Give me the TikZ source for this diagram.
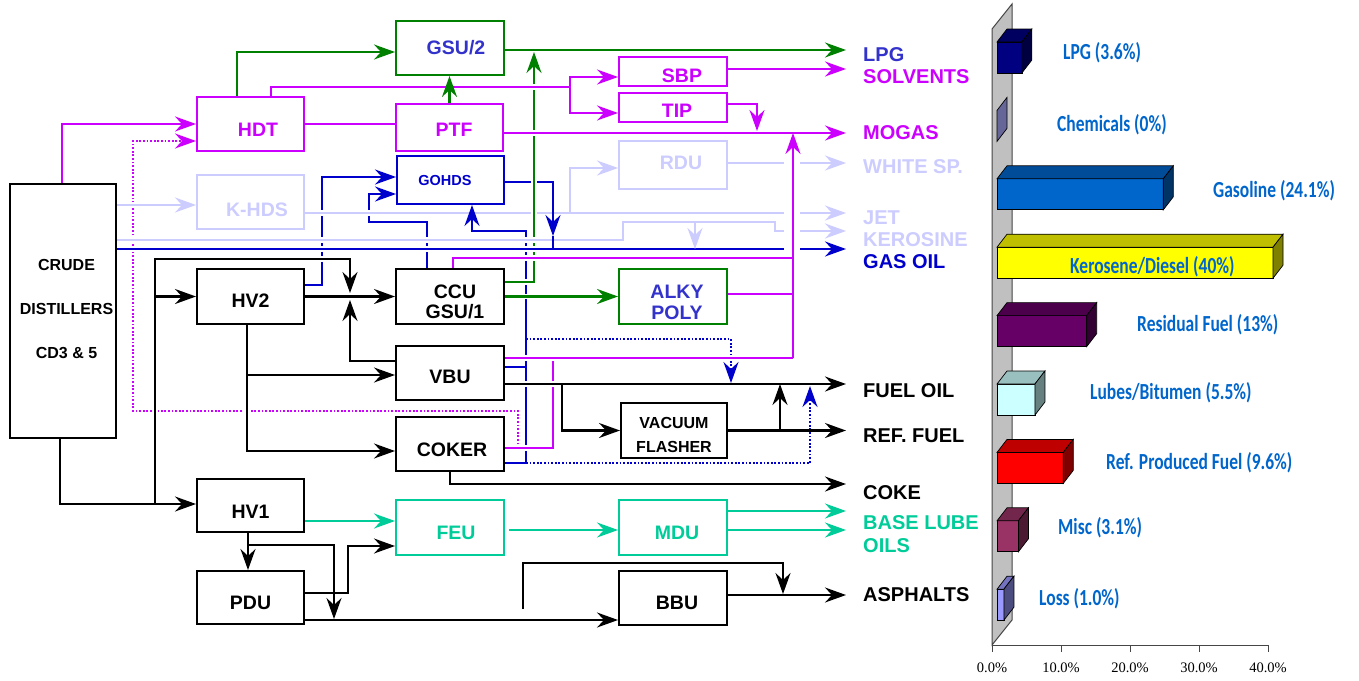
\documentclass[tikz,border=0pt]{standalone}
\usepackage{fontspec}
\setmainfont{Liberation Sans}
\newfontfamily\barfont{Carlito}[FakeStretch=0.76]
\newfontfamily\axisfont{Liberation Serif}
\usetikzlibrary{arrows.meta,backgrounds}
\definecolor{mg}{RGB}{204,0,255}
\definecolor{gr}{RGB}{0,128,0}
\definecolor{bl}{RGB}{0,0,204}
\definecolor{lv}{RGB}{204,204,255}
\definecolor{tl}{RGB}{0,204,153}
\definecolor{ind}{RGB}{51,51,204}
\definecolor{bartxt}{RGB}{0,102,204}
\definecolor{wallc}{RGB}{192,192,192}
\definecolor{wallb}{RGB}{70,70,70}
\definecolor{cLPG}{RGB}{0,0,128}
\definecolor{cGAS}{RGB}{0,102,204}
\definecolor{cKER}{RGB}{255,255,0}
\definecolor{cRES}{RGB}{102,0,102}
\definecolor{cLUB}{RGB}{204,255,255}
\definecolor{cREF}{RGB}{255,0,0}
\definecolor{cMSC}{RGB}{153,51,102}
\definecolor{cLOS}{RGB}{153,153,255}
\definecolor{cCHE}{RGB}{102,102,153}
\tikzset{
  box/.style={draw=#1, line width=2pt, minimum width=107pt, minimum height=54pt, inner sep=0pt},
  lbl/.style={font=\fontsize{19.5}{21}\selectfont\bfseries, align=center, inner sep=0pt},
  outl/.style={anchor=west, inner sep=0pt, font=\fontsize{20}{22}\selectfont\bfseries},
  wire/.style={line width=2.1pt},
  arr/.style={-{Stealth[length=21pt,width=15pt,inset=7pt]}},
  halo/.style={preaction={draw=white,line width=5.5pt,-}},
  dotln/.style={dash pattern=on 1.8pt off 1.8pt},
  barlbl/.style={anchor=west, inner sep=0pt, text=bartxt, font=\barfont\bfseries\fontsize{23}{25}\selectfont},
  barface/.style={draw=black, line width=0.7pt},
}
\begin{document}
\begin{tikzpicture}[x=1pt,y=-1pt]
\useasboundingbox (0,0) rectangle (1359,680);
% ---------------- process units ----------------
\node[box=black, minimum width=106pt, minimum height=254pt, label={[name=crude-l,lbl,font=\fontsize{16}{44}\selectfont\bfseries,xshift=3.5pt,yshift=2pt]center:CRUDE\\DISTILLERS\\CD3 \& 5}] (crude) at (63,311) {};
\node[box=mg, label={[name=hdt-l,lbl,text=mg,xshift=7.5pt,yshift=-5.5pt]center:HDT}] (hdt) at (250.5,124) {};
\node[box=lv, label={[name=khds-l,lbl,text=lv,xshift=6.5pt,yshift=-8pt]center:K-HDS}] (khds) at (250.5,202) {};
\node[box=gr, minimum width=108pt, label={[name=gsu2-l,lbl,text=ind,xshift=6pt]center:GSU/2}] (gsu2) at (450,48) {};
\node[box=mg, minimum height=47pt, label={[name=ptf-l,lbl,text=mg,xshift=4.5pt,yshift=-2pt]center:PTF}] (ptf) at (449.5,127.5) {};
\node[box=bl, minimum height=48pt, label={[name=gohds-l,lbl,font=\fontsize{14.5}{16}\selectfont\bfseries,text=bl,xshift=-5.5pt,yshift=-1pt]center:GOHDS}] (gohds) at (450.5,180) {};
\node[box=mg, minimum width=108pt, minimum height=29pt, label={[name=sbp-l,lbl,text=mg,xshift=9pt,yshift=-4.5pt]center:SBP}] (sbp) at (673,71.5) {};
\node[box=mg, minimum width=108pt, minimum height=29pt, label={[name=tip-l,lbl,text=mg,xshift=4pt,yshift=-3.5pt]center:TIP}] (tip) at (673,107.5) {};
\node[box=lv, minimum width=108pt, minimum height=48pt, label={[name=rdu-l,lbl,text=lv,xshift=8pt,yshift=2pt]center:RDU}] (rdu) at (673,165) {};
\node[box=black, minimum height=55pt, label={[name=hv2-l,lbl,yshift=-4.5pt]center:HV2}] (hv2) at (250.5,296.5) {};
\node[box=black, minimum width=108pt, minimum height=55pt, label={[name=ccu-l,lbl,font=\fontsize{19.5}{20}\selectfont\bfseries,xshift=5pt,yshift=-5.5pt]center:CCU\\GSU/1}] (ccu) at (450,296.5) {};
\node[box=gr, minimum width=108pt, minimum height=55pt, label={[name=alky-l,lbl,text=ind,xshift=4pt,yshift=-6pt]center:ALKY\\POLY}] (alky) at (673,296.5) {};
\node[box=black, minimum width=108pt, label={[name=vbu-l,lbl,yshift=-4pt]center:VBU}] (vbu) at (450,373) {};
\node[box=black, minimum width=108pt, label={[name=coker-l,lbl,xshift=2pt,yshift=-6pt]center:COKER}] (coker) at (450,444) {};
\node[box=black, minimum width=106pt, minimum height=55pt, label={[name=vac-l,lbl,font=\fontsize{16}{24}\selectfont\bfseries,yshift=-4.5pt]center:VACUUM\\FLASHER}] (vac) at (674,430.5) {};
\node[box=black, minimum height=53pt, label={[name=hv1-l,lbl,yshift=-6.5pt]center:HV1}] (hv1) at (250.5,505.5) {};
\node[box=black, minimum height=53pt, label={[name=pdu-l,lbl,yshift=-5.5pt]center:PDU}] (pdu) at (250.5,597.5) {};
\node[box=tl, minimum width=108pt, minimum height=55pt, label={[name=feu-l,lbl,text=tl,xshift=6pt,yshift=-5.5pt]center:FEU}] (feu) at (450,527.5) {};
\node[box=tl, minimum width=108pt, minimum height=55pt, label={[name=mdu-l,lbl,text=tl,xshift=4pt,yshift=-5.5pt]center:MDU}] (mdu) at (673,527.5) {};
\node[box=black, minimum width=108pt, label={[name=bbu-l,lbl,xshift=4pt,yshift=-5pt]center:BBU}] (bbu) at (673,598) {};
% ---------------- product labels ----------------
\node[outl,text=ind] (lpg) at (863,55) {LPG};
\node[outl,text=mg] (solv) at (863,77) {SOLVENTS};
\node[outl,text=mg] (mogas) at (863,133) {MOGAS};
\node[outl,text=lv] (white) at (863,167) {WHITE SP.};
\node[outl,text=lv] (jet) at (863,218) {JET};
\node[outl,text=lv] (kero) at (863,240) {KEROSINE};
\node[outl,text=bl] (gasoil) at (863,262) {GAS OIL};
\node[outl] (fueloil) at (863,391) {FUEL OIL};
\node[outl] (reffuel) at (863,436) {REF. FUEL};
\node[outl] (coke) at (863,493) {COKE};
\node[outl,text=tl] (blube) at (863,523) {BASE LUBE};
\node[outl,text=tl] (oils) at (863,546) {OILS};
\node[outl] (asph) at (863,595) {ASPHALTS};
% ---------------- coordinates ----------------
\coordinate (elpg) at (846,50);
\coordinate (esolv) at (846,69);
\coordinate (emogas) at (846,133);
\coordinate (ewhite) at (846,163);
\coordinate (ejet) at (846,213);
\coordinate (ekero) at (846,231);
\coordinate (egas) at (846,249);
\coordinate (efuel) at (846,384);
\coordinate (eref) at (846,430.5);
\coordinate (ecoke) at (846,484);
\coordinate (ebl1) at (846,511);
\coordinate (ebl2) at (846,530);
\coordinate (easph) at (846,595);
\coordinate (jsbp) at (570,87);
\coordinate (tipdn) at (757,131);
\coordinate (mtop) at (793,133);
\coordinate (mbot) at (793,358);
\coordinate (m258) at (793,258);
\coordinate (m294) at (793,294);
\coordinate (jm553) at (553,358);
\coordinate (xd133) at (133,411);
\coordinate (g534) at (534,52);
\coordinate (b369) at (369,222);
\coordinate (b553) at (553,236);
\coordinate (b526) at (526,231);
\coordinate (b367) at (526,367);
\coordinate (b463) at (526,463);
\coordinate (bd1) at (526,339);
\coordinate (bd1t) at (731,383);
\coordinate (bd2t) at (810,386);
\coordinate (l570) at (570,213);
\coordinate (l623) at (623,222);
\coordinate (l775) at (775,231);
\coordinate (l695) at (695,222);
\coordinate (k155) at (155,504);
\coordinate (k350) at (350,259);
\coordinate (k350d) at (350,293);
\coordinate (k350u) at (350,300);
\coordinate (k375) at (247,375);
\coordinate (k562) at (562,384);
\coordinate (k780) at (780,430.5);
\coordinate (k545) at (248,545);
\coordinate (k619) at (334,619);
\coordinate (k523) at (523,609);
\coordinate (k783) at (783,563);
\coordinate (k783b) at (783,594);
% ---------------- connectors ----------------
\begin{scope}[on background layer]
\fill[white] (0,0) rectangle (1359,680);
% lowest lines
\draw[wire,mg,dotln,arr] ([xshift=13pt,yshift=-4pt]coker.east) |- (xd133) |- ([yshift=-17pt]hdt.west);
\draw[wire,bl,arr] ([yshift=11.5pt]hv2.east) -- ++(17,0) |- ([yshift=3pt]gohds.west);
\draw[wire,bl,arr] ([xshift=-23pt]ccu.north) |- (b369) |- ([yshift=-14pt]gohds.west);
\draw[wire,lv,halo] ([yshift=-11pt]khds.east) -- ([xshift=-62pt]ejet);
\draw[wire,lv,arr] ([xshift=-46pt]ejet) -- (ejet);
\draw[wire,lv,arr] (l570) |- ([yshift=-3pt]rdu.west);
\draw[wire,bl,arr] ([yshift=-19pt]coker.east) -| (b526) -| ([xshift=21.5pt]gohds.south);
\draw[wire,bl] ([yshift=6pt]vbu.east) -- (b367);
\draw[wire,bl,arr] ([yshift=-2pt]gohds.east) -| (b553);
\draw[wire,gr,arr,halo] ([yshift=14.5pt]ccu.east) -| (g534);
\draw[wire,gr,arr,halo] (ccu.east) -- (alky.west);
% crossing lines
\draw[wire,lv,halo] ([yshift=71pt]crude.east) -| (l623) -| (l775) -- ([xshift=-62pt]ekero);
\draw[wire,lv,arr] ([xshift=-46pt]ekero) -- (ekero);
\draw[wire,bl,halo] ([yshift=62pt]crude.east) -- ([xshift=-62pt]egas);
\draw[wire,bl,arr] ([xshift=-46pt]egas) -- (egas);
\draw[wire,mg,halo] ([xshift=3pt]ccu.north) |- (m258);
\draw[wire,mg,halo] ([xshift=20.5pt]hdt.north) |- (jsbp);
\draw[wire,mg,arr] (jsbp) |- ([yshift=-5.5pt]sbp.west);
\draw[wire,mg,arr] (jsbp) |- ([yshift=-5.5pt]tip.west);
\draw[wire,mg,arr,halo] ([yshift=-5.5pt]ptf.east) -- (emogas);
\draw[wire,arr,halo] (k155) |- (k350) -- (k350d);
\draw[wire,lv,arr,halo] ([yshift=106pt]crude.east) -- ([yshift=-3pt]khds.west);
\draw[wire,arr,halo] ([xshift=-3.5pt]hv2.south) |- ([yshift=-7pt]coker.west);
\draw[wire,mg,halo] ([yshift=-4pt]coker.east) -| (jm553);
\draw[wire,arr,halo] ([yshift=-11pt]vbu.east) -- (efuel);
\draw[wire,bl,dotln,arr] (bd1) -| (bd1t);
\draw[wire,bl,dotln,arr] (b463) -| (bd2t);
\draw[wire,mg,halo] ([yshift=15pt]vbu.east) -- (mbot);
\draw[wire,gr,arr,halo] (ptf.north) -- (ptf.north |- gsu2.south);
% plain lines
\draw[wire,mg,arr] (mbot) -- (mtop);
\draw[wire,mg] ([yshift=2.5pt]alky.east) -- (m294);
\draw[wire,mg,arr] ([yshift=3.5pt]tip.east) -| (tipdn);
\draw[wire,mg,arr] ([xshift=-1pt]crude.north) |- (hdt.west);
\draw[wire,mg] (hdt.east) -- (hdt.east -| ptf.west);
\draw[wire,mg,arr] ([yshift=2.5pt]sbp.east) -- (esolv);
\draw[wire,gr,arr] ([xshift=-13.5pt]hdt.north) |- ([yshift=-4pt]gsu2.west);
\draw[wire,gr,arr] ([yshift=-2pt]gsu2.east) -- (elpg);
\draw[wire,bl] (b553) -- (b553 |- egas);
\draw[wire,lv,arr] (l695) -- (l695 |- egas);
\draw[wire,lv] ([yshift=2pt]rdu.east) -- ([xshift=-62pt]ewhite);
\draw[wire,lv,arr] ([xshift=-46pt]ewhite) -- (ewhite);
\draw[wire,arr] ([xshift=-3pt]crude.south) |- ([yshift=1.5pt]hv1.west);
\draw[wire,arr] (hv2.west -| k155) -- (hv2.west);
\draw[wire,arr] (hv2.east) -- (ccu.west);
\draw[wire,arr] ([yshift=12pt]vbu.west) -| (k350u);
\draw[wire,arr] (k375) -- (k375 -| vbu.west);
\draw[wire,arr] (k562) |- (vac.west);
\draw[wire,arr] (vac.east) -- (eref);
\draw[wire,arr] (k780) -- (k780 |- efuel);
\draw[wire,arr] (coker.south) |- (ecoke);
\draw[wire,arr] ([xshift=-2.5pt]hv1.south) -- ([xshift=-2.5pt]pdu.north);
\draw[wire,arr] (k545) -| (k619);
\draw[wire,arr] ([yshift=4.5pt]pdu.east) -- ++(43,0) |- ([yshift=-18.5pt]feu.west);
\draw[wire,arr] ([yshift=-22.5pt]pdu.east) -- ([yshift=-22pt]bbu.west);
\draw[wire,arr] (k523) |- (k783) -- (k783b);
\draw[wire,arr] ([yshift=3pt]bbu.east) -- (easph);
\draw[wire,tl,arr] ([yshift=-15.5pt]hv1.east) -- ([yshift=6.5pt]feu.west);
\draw[wire,tl,arr] ([xshift=4pt,yshift=-2.5pt]feu.east) -- ([yshift=-2.5pt]mdu.west);
\draw[wire,tl,arr] ([yshift=16.5pt]mdu.east) -- (ebl1);
\draw[wire,tl,arr] ([yshift=-2.5pt]mdu.east) -- (ebl2);
\end{scope}
% ---------------- bar chart ----------------
\filldraw[fill=wallc, draw=wallb, line width=1pt] (992,29) -- (1012,4) -- (1012,620) -- (992,645) -- cycle;
\draw[line width=1pt, draw=wallb] (992,645) -- (1268,645);
\foreach \i/\lab in {0/0.0,1/10.0,2/20.0,3/30.0,4/40.0} {
  \draw[line width=1pt, draw=wallb] (992+69*\i,645) -- (992+69*\i,652);
  \node[font=\axisfont\fontsize{14.5}{16}\selectfont, inner sep=0pt] (ax\i) at (992+69*\i,668) {\lab\%};
}
\foreach \k/\p/\c in {0/3.6/cLPG,2/24.1/cGAS,3/40/cKER,4/13/cRES,5/5.5/cLUB,6/9.6/cREF,7/3.1/cMSC,8/1.0/cLOS} {
  \pgfmathsetmacro\bt{42+68.4*\k}
  \pgfmathsetmacro\br{997+6.9*\p}
  \filldraw[barface, fill=\c] (997,\bt) rectangle (\br,\bt+31);
  \filldraw[barface, fill=\c!75!black] (997,\bt) -- (1007,\bt-13) -- (\br+10,\bt-13) -- (\br,\bt) -- cycle;
  \filldraw[barface, fill=\c!50!black] (\br,\bt) -- (\br+10,\bt-13) -- (\br+10,\bt+18) -- (\br,\bt+31) -- cycle;
}
\filldraw[barface, fill=cCHE] (997,110.4) -- (1007,97.4) -- (1007,128.4) -- (997,141.4) -- cycle;
\node[barlbl] (lb1) at (1063,53) {LPG (3.6\%)};
\node[barlbl] (lb2) at (1057,125) {Chemicals (0\%)};
\node[barlbl] (lb3) at (1213,191) {Gasoline (24.1\%)};
\node[barlbl] (lb4) at (1070,267) {Kerosene/Diesel (40\%)};
\node[barlbl] (lb5) at (1137,325) {Residual Fuel (13\%)};
\node[barlbl] (lb6) at (1090,393) {Lubes/Bitumen (5.5\%)};
\node[barlbl] (lb7) at (1106,463) {Ref. Produced Fuel (9.6\%)};
\node[barlbl] (lb8) at (1058,528) {Misc (3.1\%)};
\node[barlbl] (lb9) at (1039,599) {Loss (1.0\%)};
\end{tikzpicture}
\end{document}
